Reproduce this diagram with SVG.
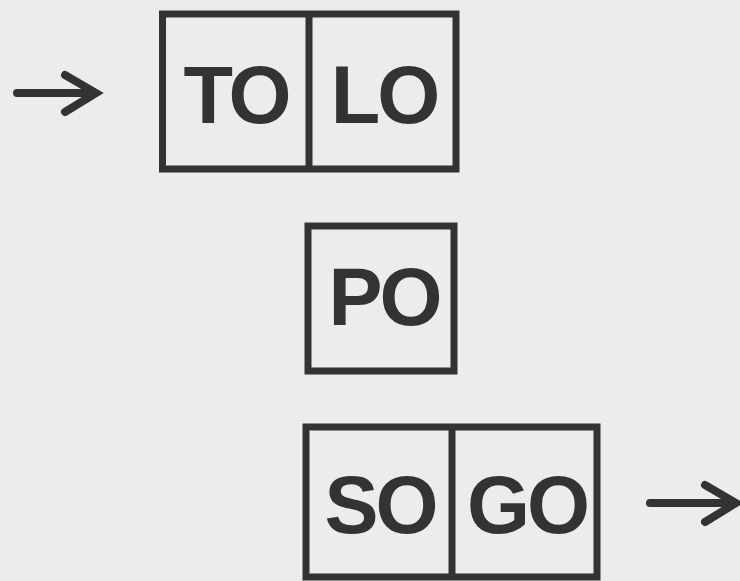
<svg xmlns="http://www.w3.org/2000/svg" width="740" height="581" viewBox="0 0 740 581">
<style>
.box{fill:none;stroke:#333;stroke-width:7;stroke-linejoin:miter}
.lbl{font-family:"Liberation Sans",Arial,sans-serif;font-weight:bold;font-size:81px;fill:#333;text-anchor:middle;letter-spacing:-3px}
.arr{fill:none;stroke:#333;stroke-width:8;stroke-linecap:round;stroke-linejoin:miter}
</style>
<rect width="740" height="581" fill="#ececec"/>
<g id="node-TO-LO">
<rect class="box" x="162.5" y="14" width="293.5" height="155"/>
<line class="box" x1="309" y1="14" x2="309" y2="169"/>
<text class="lbl" x="236" y="123">TO</text>
<text class="lbl" x="384" y="123">LO</text>
</g>
<g id="node-PO">
<rect class="box" x="308" y="226" width="146" height="145"/>
<text class="lbl" x="384" y="325">PO</text>
</g>
<g id="node-SO-GO">
<rect class="box" x="306" y="427" width="291" height="150"/>
<line class="box" x1="452" y1="427" x2="452" y2="577"/>
<text class="lbl" x="380" y="533">SO</text>
<text class="lbl" x="527" y="533">GO</text>
</g>
<g id="connectors">
<path class="arr" d="M17 93 H95 M65 75 L96 93 L65 112"/>
<path class="arr" d="M650 503 H735 M705 485 L736 503 L705 522"/>
</g>
</svg>
